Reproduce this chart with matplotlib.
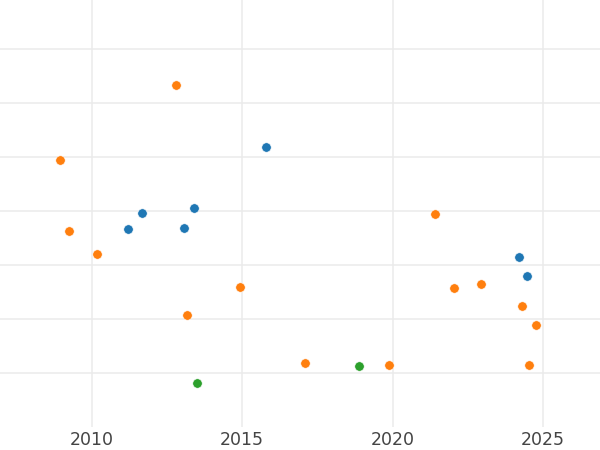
import matplotlib
matplotlib.use("Agg")
import matplotlib.pyplot as plt

# series (x = year, y = arbitrary units, no y labels shown)
blue_x = [2015.80, 2011.68, 2011.20, 2013.39, 2013.07, 2024.19, 2024.48]
blue_y = [5.19, 3.96, 3.67, 4.05, 3.69, 3.14, 2.80]

orange_x = [2012.82, 2008.95, 2009.25, 2010.18, 2014.93, 2013.17, 2017.09,
            2019.87, 2021.41, 2022.05, 2022.94, 2024.30, 2024.78, 2024.54]
orange_y = [6.33, 4.94, 3.63, 3.20, 2.60, 2.07, 1.18,
            1.14, 3.94, 2.57, 2.65, 2.24, 1.89, 1.14]

green_x = [2013.50, 2018.89]
green_y = [0.81, 1.13]

x_ticks = [2010, 2015, 2020, 2025]
y_grid = [1, 2, 3, 4, 5, 6, 7]

fig = plt.figure(figsize=(6, 4.5), dpi=100, facecolor="white")
ax = fig.add_axes([0, 23 / 450, 1, 427 / 450])

for xs, ys, c in [(blue_x, blue_y, "#1f77b4"), (orange_x, orange_y, "#ff7f0e"), (green_x, green_y, "#2ca02c")]:
    ax.scatter(xs, ys, s=46, color=c, edgecolors="white", linewidths=0.4, zorder=3)

ax.set_xlim(2006.96, 2026.89)
ax.set_ylim(0, 7.907)
ax.set_xticks(x_ticks)
ax.set_xticklabels([str(v) for v in x_ticks])
ax.set_yticks(y_grid)
ax.set_yticklabels([])
ax.tick_params(axis="both", length=0, labelsize=12.5, labelcolor="#444444", pad=3)
ax.grid(True, color="#ebebeb", linewidth=1.1, zorder=0)
for s in ax.spines.values():
    s.set_visible(False)

fig.savefig("out.png", dpi=100, facecolor="white")
